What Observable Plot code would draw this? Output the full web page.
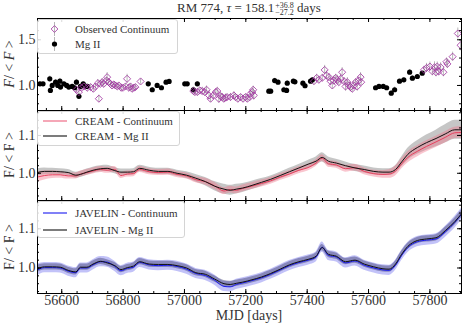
<!DOCTYPE html>
<html><head><meta charset="utf-8">
<script src="https://cdn.jsdelivr.net/npm/d3@7"></script>
<script src="https://cdn.jsdelivr.net/npm/@observablehq/plot@0.6"></script>
<style>
body{margin:0;background:#fff;}
#c{position:relative;width:463px;height:326px;font-family:'Liberation Serif',serif;color:#333;overflow:hidden;background:#fff}
#c svg.plot{position:absolute;left:0;overflow:visible;background:none}
.leg{position:absolute;background:rgba(255,255,255,0.85);border:1px solid #d4d4d4;border-radius:3px;font-size:11px;color:#333;box-sizing:border-box}
.row{position:absolute;left:0;height:16px;line-height:16px;white-space:nowrap;width:100%}
.row svg{position:absolute;left:0;top:0}
.row span{position:absolute;left:37px;top:0}
.ylab{position:absolute;left:10px;transform:translate(-50%,-50%) rotate(-90deg);font-size:14px;white-space:nowrap;line-height:14px}
#title{position:absolute;top:0px;left:249px;transform:translateX(-50%);font-size:13px;white-space:nowrap;line-height:16px}
.ss{display:inline-block;vertical-align:-3px;font-size:8px;line-height:7.5px;margin-left:1px}
.ss span{display:block}
#xlab{position:absolute;left:249px;top:309px;transform:translateX(-50%);font-size:14px;line-height:14px;white-space:nowrap}
</style></head>
<body><div id="c">
<div id="title">RM 774, <i>τ</i> = 158.1<span class="ss"><span>+36.8</span><span>−27.2</span></span> days</div>
<div class="ylab" style="top:64px"><i>F</i>/ &lt; <i>F</i> &gt;</div>
<div class="ylab" style="top:155px">F/ &lt; F &gt;</div>
<div class="ylab" style="top:247px">F/ &lt; F &gt;</div>
<div id="xlab">MJD [days]</div>
</div>
<script>
// ---------- Panel 1: observed light curves ----------
const mgMJD = [56529,56539,56561,56563,56569,56580,56587,56594,56596,56607,56616,56623,56634,56642,56648,56656,56661,56670,56678,56683,
  56882,56895,56911,56925,56940,56950,57001,57009,57029,57042,
  57275,57281,57294,57305,57324,57333,57335,57355,57360,57386,57393,57411,57417,
  57623,57634,57648,57659,57674,57685,57701,57715,57734,57743,57759,57775];
const mgFlux = [1.018,1.018,1.073,0.946,1.0,1.036,1.0,1.047,0.982,1.018,1.0,0.982,0.989,0.975,1.036,0.881,0.989,1.018,0.989,0.989,
  1.018,0.953,1.0,0.975,1.036,1.044,1.018,1.018,0.953,1.018,
  0.938,0.938,1.054,1.036,0.953,0.946,1.025,1.047,1.04,1.025,0.997,1.047,1.062,
  0.975,0.989,0.989,0.975,0.916,0.953,1.047,1.062,1.145,1.08,1.098,1.134];
const mgErr = [0.02,0.02,0.03,0.03,0.025,0.03,0.02,0.03,0.025,0.02,0.02,0.025,0.02,0.02,0.03,0.03,0.02,0.02,0.02,0.02,
  0.02,0.025,0.02,0.02,0.02,0.02,0.02,0.02,0.03,0.025,
  0.02,0.02,0.025,0.02,0.03,0.03,0.025,0.02,0.02,0.02,0.03,0.02,0.02,
  0.02,0.02,0.02,0.02,0.03,0.03,0.02,0.02,0.03,0.03,0.02,0.02];

const contMJD = [56648,56656,56664,56672,56683,56694,56703,56710,56718,56721,56726,56732,56737,56746,56748,56753,56759,56764,56770,56775,56781,56786,56794,56800,56808,56813,56819,56824,56829,56835,56840,56857,
  57029,57034,57042,57050,57058,57066,57072,57080,57085,57094,57102,57107,57112,57118,57123,57128,57134,57139,57150,57161,57166,57174,57183,57191,57199,57205,57213,57215,57221,57224,57226,
  57422,57431,57438,57449,57457,57463,57471,57476,57482,57487,57493,57498,57503,57509,57514,57520,57525,57531,57536,57541,57547,57552,57558,57563,57568,57574,57576,
  57781,57789,57800,57808,57815,57820,57824,57829,57835,57844,57854,57857,57874,57891,57900];
const contFlux = [0.953,0.928,0.975,0.989,0.975,0.982,0.964,0.989,1.025,0.855,1.018,1.036,1.018,1.054,1.091,1.036,1.018,1.0,1.011,1.0,0.989,1.0,0.975,0.975,0.989,1.073,0.975,0.989,0.964,0.975,0.982,1.044,
  0.939,0.928,0.928,0.946,0.939,0.928,0.953,0.891,0.855,0.891,0.928,0.939,0.855,0.881,0.873,0.855,0.866,0.873,0.873,0.891,0.873,0.855,0.873,0.855,0.873,0.855,0.873,0.909,0.928,0.953,0.891,
  1.047,1.083,1.062,1.083,1.170,1.109,1.091,1.047,1.0,1.054,1.083,1.062,1.036,1.073,1.145,1.047,0.989,1.036,1.0,0.982,0.964,1.0,1.036,0.989,1.054,1.091,1.036,
  1.171,1.192,1.207,1.155,1.199,1.145,1.207,1.155,1.199,1.145,1.26,1.236,1.315,1.569,1.44];
const contErr = [0.03,0.04,0.03,0.03,0.04,0.03,0.04,0.03,0.04,0.04,0.03,0.04,0.04,0.04,0.05,0.04,0.03,0.03,0.03,0.03,0.03,0.03,0.04,0.03,0.03,0.05,0.04,0.03,0.04,0.03,0.03,0.03,
  0.03,0.04,0.04,0.03,0.04,0.04,0.04,0.05,0.04,0.04,0.03,0.04,0.05,0.04,0.04,0.04,0.04,0.03,0.04,0.04,0.03,0.04,0.03,0.04,0.03,0.04,0.03,0.04,0.04,0.04,0.05,
  0.04,0.04,0.04,0.04,0.05,0.05,0.04,0.05,0.04,0.05,0.04,0.05,0.04,0.05,0.05,0.04,0.05,0.05,0.04,0.05,0.04,0.05,0.04,0.05,0.04,0.05,0.04,
  0.04,0.05,0.05,0.05,0.06,0.05,0.05,0.05,0.05,0.05,0.04,0.05,0.05,0.06,0.06];

// ---------- Panels 2/3: model light curves ----------
const modelMJD = [56521,56544,56570,56595,56621,56646,56661,56682,56702,56727,56748,56773,56793,56814,56834,56854,56885,56915,56946,56976,57007,57037,57068,57098,57129,57149,57169,57190,57220,57251,57281,57312,57342,57373,57403,57429,57449,57469,57495,57525,57556,57586,57617,57647,57667,57688,57708,57728,57759,57789,57820,57850,57881,57903];
const creamMg = [1.002,1.005,1.005,1.004,1.002,0.995,0.997,1.003,1.008,1.012,1.013,1.007,1.003,1.003,1.004,1.013,1.008,1.005,1.005,1.0,0.995,0.987,0.978,0.966,0.958,0.955,0.958,0.961,0.968,0.976,0.984,0.994,1.004,1.014,1.024,1.032,1.042,1.032,1.027,1.02,1.014,1.01,1.005,1.003,1.003,1.01,1.03,1.05,1.068,1.081,1.092,1.104,1.115,1.115];
const creamMgErr = [0.01,0.009,0.008,0.008,0.008,0.008,0.008,0.008,0.008,0.008,0.008,0.008,0.008,0.008,0.008,0.008,0.008,0.008,0.008,0.008,0.009,0.01,0.011,0.012,0.013,0.013,0.013,0.012,0.011,0.01,0.009,0.009,0.009,0.009,0.01,0.011,0.012,0.011,0.01,0.01,0.009,0.009,0.009,0.009,0.009,0.01,0.013,0.016,0.018,0.02,0.022,0.024,0.025,0.025];
const creamCont = [0.99,0.994,0.996,0.996,0.993,0.993,0.998,1.002,1.006,1.01,1.008,1.01,0.994,0.998,0.999,1.01,1.004,1.002,1.003,0.997,0.993,0.983,0.978,0.967,0.953,0.957,0.955,0.96,0.966,0.973,0.98,0.99,0.998,1.008,1.015,1.027,1.04,1.025,1.022,1.012,1.015,1.005,0.999,0.997,0.998,1.006,1.025,1.042,1.058,1.071,1.083,1.095,1.107,1.108];
const creamContErr = [0.014,0.012,0.01,0.009,0.008,0.008,0.008,0.008,0.008,0.008,0.008,0.008,0.008,0.008,0.008,0.008,0.008,0.008,0.008,0.008,0.008,0.008,0.009,0.009,0.009,0.009,0.009,0.009,0.009,0.009,0.009,0.009,0.009,0.009,0.009,0.009,0.009,0.009,0.009,0.009,0.009,0.009,0.009,0.01,0.011,0.013,0.014,0.015,0.015,0.015,0.015,0.015,0.015,0.015];
const javMg = [0.998,1.003,1.003,1.002,0.994,0.99,1.002,1.002,1.01,1.017,1.013,1.006,0.996,1.001,1.005,1.016,1.01,1.009,1.009,1.006,1.0,0.988,0.984,0.972,0.96,0.958,0.961,0.964,0.97,0.977,0.986,0.997,1.008,1.016,1.022,1.03,1.052,1.035,1.03,1.016,1.02,1.01,1.003,0.998,0.997,1.01,1.035,1.055,1.07,1.074,1.077,1.095,1.118,1.138];
const javMgErr = [0.009,0.008,0.008,0.008,0.008,0.008,0.008,0.008,0.008,0.008,0.008,0.008,0.008,0.008,0.008,0.008,0.008,0.008,0.008,0.008,0.008,0.008,0.008,0.008,0.008,0.008,0.008,0.008,0.008,0.008,0.008,0.008,0.008,0.008,0.008,0.008,0.008,0.008,0.008,0.008,0.008,0.008,0.008,0.008,0.008,0.008,0.008,0.008,0.008,0.008,0.008,0.009,0.009,0.01];
const javCont = [0.995,1.001,1.001,1.0,0.992,0.988,1.0,1.0,1.008,1.016,1.015,1.004,0.993,0.999,1.002,1.014,1.008,1.006,1.007,1.004,0.997,0.986,0.981,0.969,0.953,0.952,0.958,0.962,0.968,0.975,0.984,0.995,1.006,1.014,1.02,1.028,1.053,1.032,1.028,1.013,1.018,1.007,1.0,0.995,0.994,1.007,1.032,1.052,1.067,1.071,1.074,1.092,1.116,1.137];
const javContErr = [0.015,0.013,0.013,0.013,0.013,0.013,0.013,0.013,0.013,0.013,0.013,0.013,0.013,0.013,0.013,0.013,0.013,0.013,0.013,0.013,0.013,0.013,0.013,0.013,0.013,0.013,0.013,0.013,0.013,0.013,0.013,0.013,0.013,0.013,0.013,0.013,0.013,0.013,0.013,0.013,0.013,0.013,0.013,0.013,0.013,0.013,0.013,0.013,0.013,0.013,0.013,0.014,0.015,0.015];

// ---------- Axis ticks ----------
const xTicks = [56600, 56800, 57000, 57200, 57400, 57600, 57800];
const xDomain = [56521, 57903];
const y1Ticks = [1.0, 1.5];
const y23Ticks = [1.0, 1.1];

const mk = (xs, vs, es) => xs.map((x, i) => ({x, v: vs[i], e: es[i]}));
const mgData = mk(mgMJD, mgFlux, mgErr);
const contData = mk(contMJD, contFlux, contErr);
const cMg = mk(modelMJD, creamMg, creamMgErr);
const cCont = mk(modelMJD, creamCont, creamContErr);
const jMg = mk(modelMJD, javMg, javMgErr);
const jCont = mk(modelMJD, javCont, javContErr);

const W = 463, ML = 37, MR = 2;
const xMinor = d3.range(56550, 57903, 50);

function panel({top, height, marginBottom, yDomain, yMaj, yMinStep, marks, bottomAxis}) {
  const innerH = height - 1 - marginBottom;
  const innerW = W - ML - MR;
  const yMinor = d3.range(Math.ceil(yDomain[0] / yMinStep) * yMinStep, yDomain[1], yMinStep).map(v => +v.toFixed(3));
  const tk = [
    Plot.tickX(xTicks, {x: d => d, insetTop: innerH - 4, stroke: "#000"}),
    Plot.tickX(xTicks, {x: d => d, insetBottom: innerH - 4, stroke: "#000"}),
    Plot.tickX(xMinor, {x: d => d, insetTop: innerH - 2, stroke: "#000"}),
    Plot.tickX(xMinor, {x: d => d, insetBottom: innerH - 2, stroke: "#000"}),
    Plot.tickY(yMaj, {y: d => d, insetRight: innerW - 4, stroke: "#000"}),
    Plot.tickY(yMaj, {y: d => d, insetLeft: innerW - 4, stroke: "#000"}),
    Plot.tickY(yMinor, {y: d => d, insetRight: innerW - 2, stroke: "#000"}),
    Plot.tickY(yMinor, {y: d => d, insetLeft: innerW - 2, stroke: "#000"}),
    Plot.axisY(yMaj, {anchor: "left", tickSize: 0, tickPadding: 2, label: null, fontSize: 14, tickFormat: d3.format(".1f")}),
    Plot.frame({stroke: "#000"})
  ];
  if (bottomAxis) tk.push(Plot.axisX(xTicks, {anchor: "bottom", tickSize: 0, tickPadding: 2, label: null, fontSize: 14, tickFormat: d => String(d)}));
  const p = Plot.plot({
    width: W, height, marginLeft: ML, marginRight: MR, marginTop: 1, marginBottom,
    x: bottomAxis ? {domain: xDomain} : {domain: xDomain, axis: null},
    y: {domain: yDomain},
    style: {background: "none", overflow: "visible", fontFamily: "'Liberation Serif', serif", fontSize: "14px", color: "#333"},
    marks: [...marks, ...tk]
  });
  p.classList.add("plot");
  p.style.top = top + "px";
  document.getElementById("c").appendChild(p);
}

// Panel 1
panel({top: 17, height: 94, marginBottom: 1, yDomain: [0.726, 1.733], yMaj: y1Ticks, yMinStep: 0.1, marks: [
  Plot.ruleX(contData, {x: "x", y1: d => d.v - d.e, y2: d => d.v + d.e, stroke: "#999", strokeOpacity: 0.7, clip: true}),
  Plot.ruleX(mgData, {x: "x", y1: d => d.v - d.e, y2: d => d.v + d.e, stroke: "#999", strokeOpacity: 0.7, clip: true}),
  Plot.dot(mgData, {x: "x", y: "v", r: 2.6, fill: "#000", stroke: "none", clip: true}),
  Plot.dot(contData, {x: "x", y: "v", r: 3.2, symbol: "diamond2", stroke: "#a23aa2", strokeOpacity: 0.85, strokeWidth: 1, fill: "none", clip: true})
]});

// Panel 2 (CREAM)
panel({top: 109, height: 92, marginBottom: 1, yDomain: [0.928, 1.166], yMaj: y23Ticks, yMinStep: 0.02, marks: [
  Plot.areaY(cMg, {x: "x", y1: d => d.v - d.e, y2: d => d.v + d.e, fill: "#808080", fillOpacity: 0.45, curve: "monotone-x", clip: true}),
  Plot.areaY(cCont, {x: "x", y1: d => d.v - d.e, y2: d => d.v + d.e, fill: "#f07088", fillOpacity: 0.4, curve: "monotone-x", clip: true}),
  Plot.line(cCont, {x: "x", y: "v", stroke: "#e8405e", strokeWidth: 1, curve: "monotone-x", clip: true}),
  Plot.line(cMg, {x: "x", y: "v", stroke: "#111", strokeWidth: 1, curve: "monotone-x", clip: true})
]});

// Panel 3 (JAVELIN)
panel({top: 199, height: 127, marginBottom: 33, yDomain: [0.935, 1.172], yMaj: y23Ticks, yMinStep: 0.02, bottomAxis: true, marks: [
  Plot.areaY(jCont, {x: "x", y1: d => d.v - d.e, y2: d => d.v + d.e, fill: "#7878f0", fillOpacity: 0.45, curve: "monotone-x", clip: true}),
  Plot.areaY(jMg, {x: "x", y1: d => d.v - d.e, y2: d => d.v + d.e, fill: "#404070", fillOpacity: 0.45, curve: "monotone-x", clip: true}),
  Plot.line(jCont, {x: "x", y: "v", stroke: "#1818f0", strokeWidth: 1, curve: "monotone-x", clip: true}),
  Plot.line(jMg, {x: "x", y: "v", stroke: "#111", strokeWidth: 1, curve: "monotone-x", clip: true})
]});

// Legends (HTML, real text)
function legend(left, top, width, height, rows) {
  const box = document.createElement("div");
  box.className = "leg";
  Object.assign(box.style, {left: left + "px", top: top + "px", width: width + "px", height: height + "px"});
  for (const r of rows) {
    const row = document.createElement("div");
    row.className = "row";
    row.style.top = (r.cy - 8) + "px";
    row.innerHTML = `<svg width="34" height="16">${r.swatch}</svg><span>${r.label}</span>`;
    box.appendChild(row);
  }
  document.getElementById("c").appendChild(box);
}
const errBar = `<line x1="16.5" x2="16.5" y1="1" y2="15" stroke="#999" stroke-opacity="0.7"/>`;
legend(37, 19, 141, 35, [
  {cy: 8.5, label: "Observed Continuum", swatch: errBar + `<path d="M16.5,4.6L19.9,8L16.5,11.4L13.1,8Z" fill="none" stroke="#a23aa2" stroke-opacity="0.85"/>`},
  {cy: 24, label: "Mg II", swatch: errBar + `<circle cx="16.5" cy="8" r="2.6" fill="#000"/>`}
]);
legend(37, 111, 143, 35, [
  {cy: 8.5, label: "CREAM - Continuum", swatch: `<line x1="5" x2="29" y1="8" y2="8" stroke="#f07890" stroke-width="1.3"/>`},
  {cy: 23.5, label: "CREAM - Mg II", swatch: `<line x1="5" x2="29" y1="8" y2="8" stroke="#111" stroke-width="1.1"/>`}
]);
legend(37, 201, 148, 37, [
  {cy: 11, label: "JAVELIN - Continuum", swatch: `<line x1="5" x2="29" y1="8" y2="8" stroke="#1818f0" stroke-width="1.1"/>`},
  {cy: 27.5, label: "JAVELIN - Mg II", swatch: `<line x1="5" x2="29" y1="8" y2="8" stroke="#111" stroke-width="1.1"/>`}
]);
</script>
</body></html>
